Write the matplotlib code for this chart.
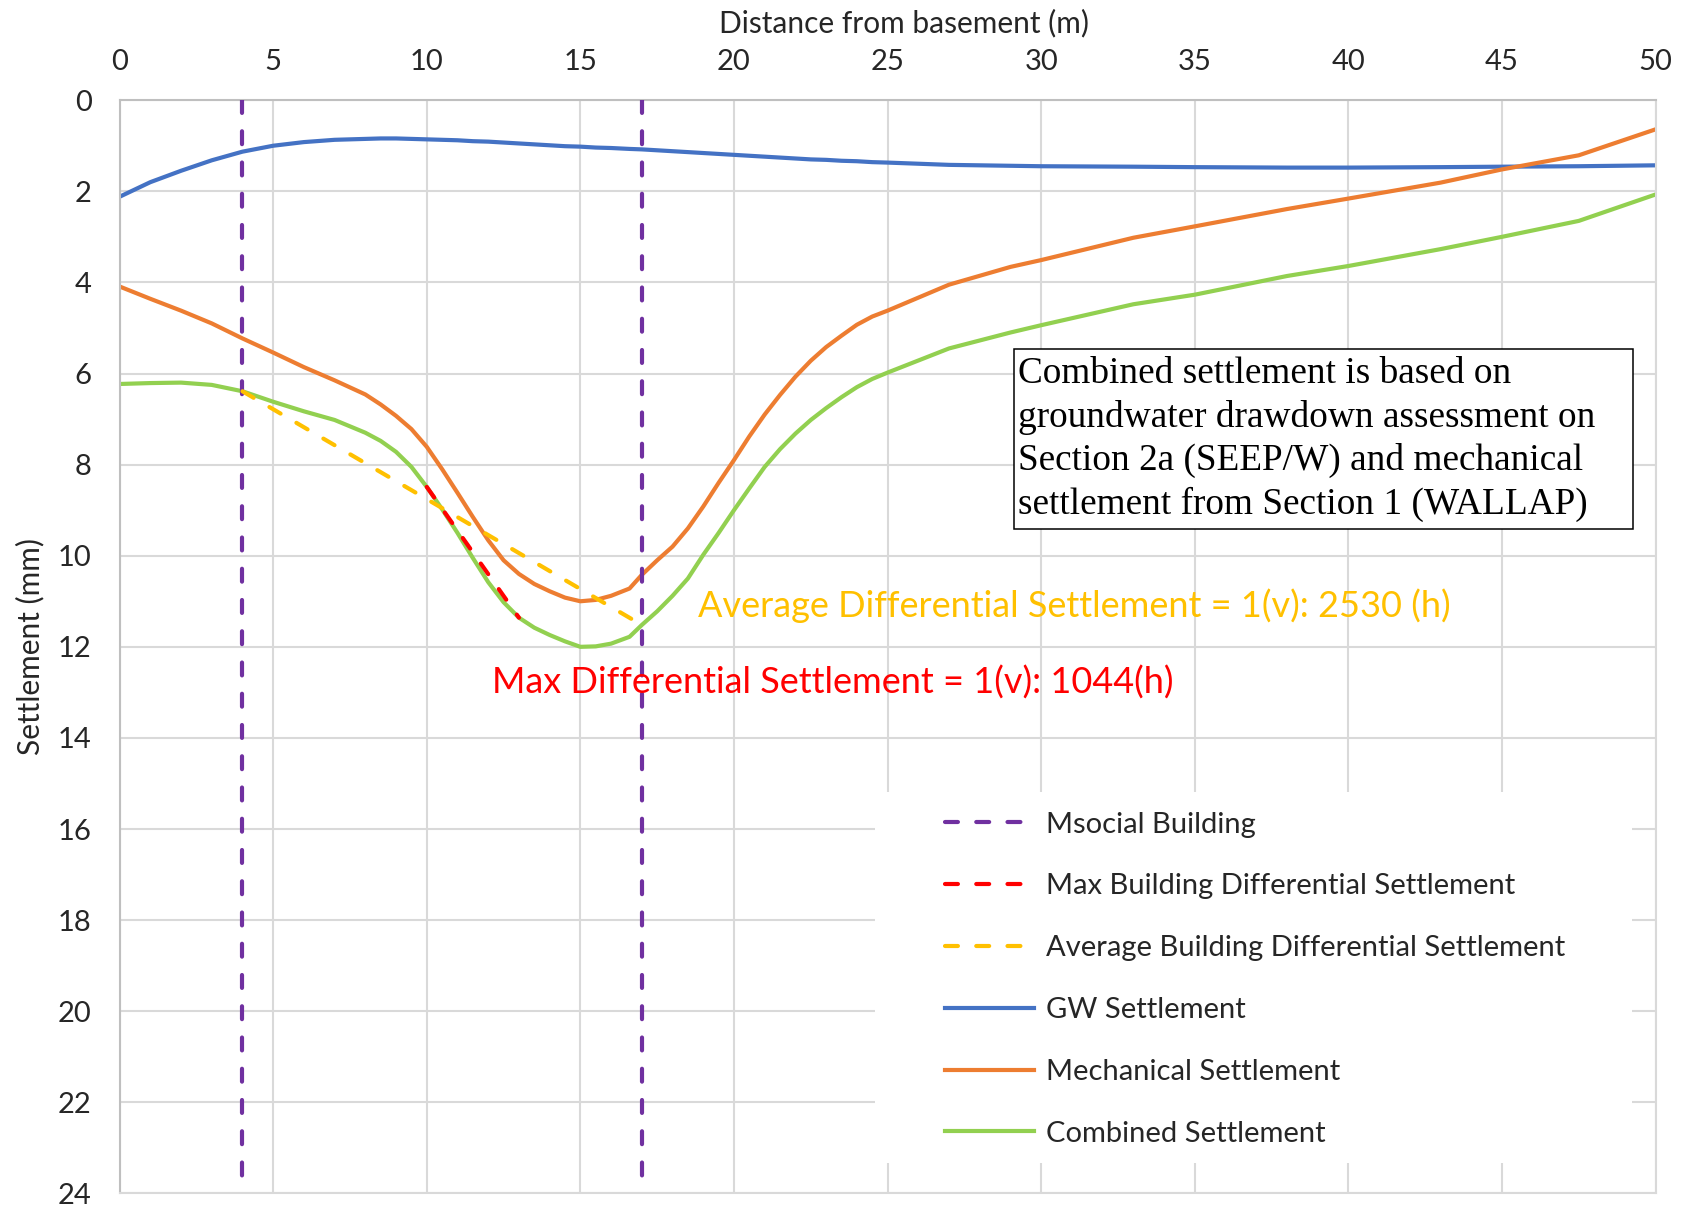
import matplotlib
matplotlib.use("Agg")
import matplotlib.pyplot as plt
from matplotlib.patches import Rectangle

# ---- data -------------------------------------------------------------
dist_m = [0, 1, 2, 3, 4, 5, 6, 7, 8, 8.5, 9, 9.5, 10, 10.5, 11, 11.5, 12,
          12.5, 13, 13.5, 14, 14.5, 15, 15.5, 16, 16.6, 17, 17.5, 18, 18.5,
          19, 19.5, 20, 20.5, 21, 21.5, 22, 22.5, 23, 23.5, 24, 24.5, 25, 27,
          29, 30, 33, 35, 38, 40, 43, 45, 47.5, 50]

gw_settlement = [2.12, 1.80, 1.55, 1.32, 1.13, 1.00, 0.92, 0.87, 0.85, 0.84,
                 0.84, 0.85, 0.86, 0.87, 0.88, 0.90, 0.91, 0.93, 0.95, 0.97,
                 0.99, 1.01, 1.02, 1.04, 1.05, 1.07, 1.08, 1.10, 1.12, 1.14,
                 1.16, 1.18, 1.20, 1.22, 1.24, 1.26, 1.28, 1.30, 1.31, 1.33,
                 1.34, 1.36, 1.37, 1.42, 1.44, 1.45, 1.46, 1.47, 1.48, 1.48,
                 1.47, 1.46, 1.45, 1.43]

mech_settlement = [4.09, 4.36, 4.62, 4.90, 5.23, 5.54, 5.86, 6.15, 6.46, 6.68,
                   6.93, 7.22, 7.61, 8.10, 8.62, 9.15, 9.66, 10.10, 10.40,
                   10.62, 10.78, 10.92, 11.00, 10.97, 10.88, 10.72, 10.42,
                   10.10, 9.80, 9.40, 8.92, 8.40, 7.90, 7.38, 6.90, 6.47,
                   6.07, 5.72, 5.42, 5.17, 4.93, 4.75, 4.62, 4.05, 3.66, 3.51,
                   3.02, 2.77, 2.39, 2.16, 1.81, 1.52, 1.21, 0.64]

combined_settlement = [6.23, 6.21, 6.20, 6.25, 6.39, 6.62, 6.83, 7.02, 7.30,
                       7.48, 7.72, 8.05, 8.49, 8.98, 9.50, 10.05, 10.58, 11.02,
                       11.36, 11.58, 11.74, 11.88, 12.00, 11.99, 11.93, 11.78,
                       11.52, 11.22, 10.88, 10.50, 9.98, 9.50, 9.00, 8.52,
                       8.05, 7.66, 7.32, 7.02, 6.76, 6.52, 6.30, 6.12, 5.98,
                       5.45, 5.10, 4.94, 4.48, 4.27, 3.86, 3.64, 3.27, 3.00,
                       2.65, 2.07]

building_edges = [4, 17]

max_diff_x = [10, 13]
max_diff_y = [8.49, 11.36]

avg_diff_x = [4, 17]
avg_diff_y = [6.39, 11.52]

x_ticks = list(range(0, 51, 5))
y_ticks = list(range(0, 25, 2))
y_range = [0, 24]

# ---- styling ----------------------------------------------------------
SANS = "Lato"
TXT = "#262626"
GRID = "#D9D9D9"
C_PURPLE = "#7030A0"
C_RED = "#FF0000"
C_YELLOW = "#FFC000"
C_BLUE = "#4472C4"
C_ORANGE = "#ED7D31"
C_GREEN = "#92D050"
LW = 3.0
DASH = (3.1, 4.4)

plt.rcParams["font.family"] = SANS

fig = plt.figure(figsize=(16.89, 12.07), dpi=100)
ax = fig.add_axes([0.0708, 0.0112, 0.9094, 0.9058])

ax.set_xlim(0, 50)
ax.set_ylim(24, 0)
ax.set_xticks(x_ticks)
ax.set_yticks(y_ticks)
ax.xaxis.tick_top()
ax.xaxis.set_label_position("top")
ax.tick_params(axis="both", length=0, labelsize=21, labelcolor=TXT)
ax.tick_params(axis="x", pad=18)
ax.tick_params(axis="y", pad=20)

ax.set_axisbelow(True)
ax.grid(True, color=GRID, linewidth=1.5)
for side, sp in ax.spines.items():
    sp.set_color(GRID if side in ("right", "bottom") else "#BFBFBF")
    sp.set_linewidth(1.5)

ax.set_xlabel("Distance from basement (m)", fontsize=21.5, color=TXT)
ax.xaxis.set_label_coords(0.511, 1.062)
ax.set_ylabel("Settlement (mm)", fontsize=21.5, color=TXT)
ax.yaxis.set_label_coords(-0.049, 0.5)

# white panel behind the legend hides the gridlines there
ax.add_patch(Rectangle((0.4918, 0.0279), 0.4929, 0.3394,
                       transform=ax.transAxes, facecolor="white",
                       edgecolor="none", zorder=1))

# building footprint edges
for i, xe in enumerate(building_edges):
    ax.plot([xe, xe], y_range, color=C_PURPLE, lw=LW, dashes=DASH,
            dash_capstyle="round", zorder=3,
            label="Msocial Building" if i == 0 else None)

ax.plot(max_diff_x, max_diff_y, color=C_RED, lw=LW, dashes=DASH,
        dash_capstyle="round", zorder=3,
        label="Max Building Differential Settlement")
ax.plot(avg_diff_x, avg_diff_y, color=C_YELLOW, lw=LW, dashes=DASH,
        dash_capstyle="round", zorder=3,
        label="Average Building Differential Settlement")
ax.plot(dist_m, gw_settlement, color=C_BLUE, lw=LW, zorder=2,
        solid_joinstyle="round", label="GW Settlement")
ax.plot(dist_m, mech_settlement, color=C_ORANGE, lw=LW, zorder=2,
        solid_joinstyle="round", label="Mechanical Settlement")
ax.plot(dist_m, combined_settlement, color=C_GREEN, lw=LW, zorder=2,
        solid_joinstyle="round", label="Combined Settlement")

ax.text(18.84, 11.34, "Average Differential Settlement = 1(v): 2530 (h)",
        color=C_YELLOW, fontsize=26, va="baseline", ha="left", zorder=4)
ax.text(12.12, 13.02, "Max Differential Settlement = 1(v): 1044(h)",
        color=C_RED, fontsize=26, va="baseline", ha="left", zorder=4)

# note box
ax.add_patch(Rectangle((0.5823, 0.6078), 0.4028, 0.1644,
                       transform=ax.transAxes, facecolor="white",
                       edgecolor="black", lw=1.1, zorder=5))
ax.text(29.23, 9.08,
        "Combined settlement is based on\n"
        "groundwater drawdown assessment on\n"
        "Section 2a (SEEP/W) and mechanical\n"
        "settlement from Section 1 (WALLAP)",
        family="Liberation Serif", fontsize=26.8, color="black",
        va="baseline", ha="left", linespacing=1.31, zorder=6)

leg = ax.legend(loc="upper left", bbox_to_anchor=(0.5374, 0.3493),
                frameon=False, fontsize=21, handlelength=3.05,
                handletextpad=0.41, labelspacing=1.227, borderpad=0,
                borderaxespad=0)
for t in leg.get_texts():
    t.set_color(TXT)

fig.savefig("out.png", dpi=100)
